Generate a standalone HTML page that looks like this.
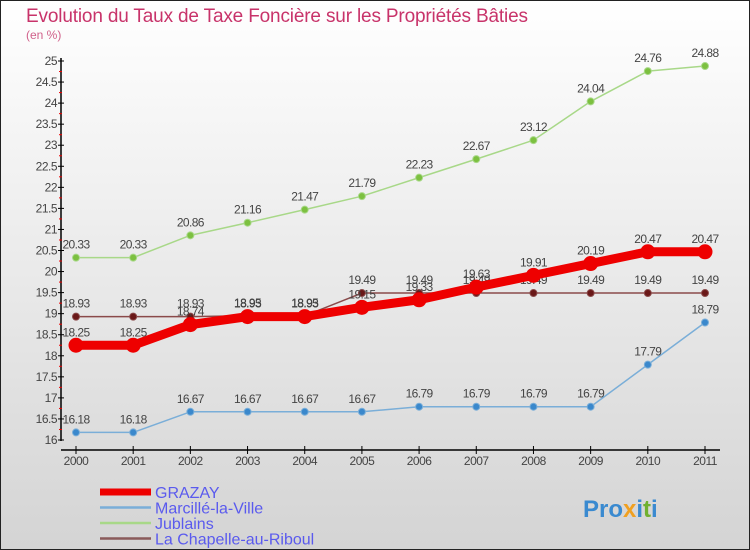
<!DOCTYPE html>
<html><head><meta charset="utf-8"><style>
body{margin:0}
svg{display:block;font-family:"Liberation Sans",sans-serif}
</style></head><body>
<svg id="c" width="750" height="550" xmlns="http://www.w3.org/2000/svg">
<defs><linearGradient id="bg" x1="0" y1="0" x2="0" y2="1"><stop offset="0" stop-color="#ffffff"/><stop offset="1" stop-color="#d4d4d4"/></linearGradient></defs>
<rect x="0.5" y="0.5" width="749" height="549" fill="url(#bg)" stroke="#222"/>
<text x="26" y="22" font-size="19" fill="#c8336a" textLength="502">Evolution du Taux de Taxe Foncière sur les Propriétés Bâties</text>
<text x="26" y="39" font-size="12" fill="#d0608a">(en %)</text>
<g id="axes"></g>
<g id="series"></g>
<g id="legend"></g>
<text x="583" y="517" font-size="24" font-weight="bold" fill="#3a8ad0">Pro<tspan fill="#f0a020">x</tspan>i<tspan fill="#70b030">t</tspan>i</text>
</svg>
<script>
const years=[2000,2001,2002,2003,2004,2005,2006,2007,2008,2009,2010,2011];
const grazay=[18.25,18.25,18.74,18.93,18.93,19.15,19.33,19.63,19.91,20.19,20.47,20.47];
const marcille=[16.18,16.18,16.67,16.67,16.67,16.67,16.79,16.79,16.79,16.79,17.79,18.79];
const jublains=[20.33,20.33,20.86,21.16,21.47,21.79,22.23,22.67,23.12,24.04,24.76,24.88];
const chapelle=[18.93,18.93,18.93,18.95,18.95,19.49,19.49,19.49,19.49,19.49,19.49,19.49];
const yTicks=[16,16.5,17,17.5,18,18.5,19,19.5,20,20.5,21,21.5,22,22.5,23,23.5,24,24.5,25];
const NS="http://www.w3.org/2000/svg";
const x=i=>76+i*(705-76)/11;
const y=v=>440-(v-16)*(440-61)/9;
function mk(t,a,p){const e=document.createElementNS(NS,t);for(const k in a)e.setAttribute(k,a[k]);p.appendChild(e);return e;}
const ax=document.getElementById('axes');
let l=mk('line',{x1:61,y1:58,x2:61,y2:441,stroke:'#000','stroke-width':1.5},ax);


l=mk('line',{x1:61,y1:450,x2:720,y2:450,stroke:'#000','stroke-width':1.5},ax);


yTicks.forEach(v=>{
  mk('line',{x1:58,y1:y(v),x2:64,y2:y(v),stroke:'#000'},ax);
  if(v<25)mk('line',{x1:59,y1:y(v+0.25),x2:62,y2:y(v+0.25),stroke:'#e00'},ax);
  const t=mk('text',{x:57,y:y(v)+4,'font-size':12,fill:'#444','text-anchor':'end','letter-spacing':'-0.5'},ax);
  t.textContent=String(v);
  
  
});
years.forEach((yr,i)=>{
  mk('line',{x1:x(i),y1:446,x2:x(i),y2:454,stroke:'#000'},ax);
  const t=mk('text',{x:x(i),y:465,'font-size':12,fill:'#444','text-anchor':'middle','letter-spacing':'-0.5'},ax);
  t.textContent=String(yr);
  
  
});
const sg=document.getElementById('series');
function series(vals,color,dot,w,r,name){
  const g=mk('g',{},sg);
  
  
  mk('polyline',{points:vals.map((v,i)=>x(i)+','+y(v)).join(' '),fill:'none',stroke:color,'stroke-width':w,'stroke-linejoin':'round'},g);
  vals.forEach((v,i)=>{
    const c=mk('circle',{cx:x(i),cy:y(v),r:r,fill:dot,stroke:color,'stroke-width':1},g);
    
    
    const t=mk('text',{x:x(i),y:y(v)-9,'font-size':12,fill:'#444','text-anchor':'middle','letter-spacing':'-0.6'},g);
    t.textContent=String(v);
    
    
  });
}
series(jublains,'#a8d888','#7cc040',1.5,3.5,'jublains-series');
series(marcille,'#7aaed8','#3a88cc',1.5,3.5,'marcille-series');
series(chapelle,'#8a4a4a','#6a1818',1.5,3.5,'chapelle-series');
series(grazay,'#ee0000','#ee0000',9,7,'grazay-series');
const lg=document.getElementById('legend');
[['GRAZAY','#ee0000',7],['Marcillé-la-Ville','#7aaed8',2.5],['Jublains','#a8d888',2.5],['La Chapelle-au-Riboul','#8a5a5a',2.5]].forEach((d,i)=>{
  const yy=492+i*15.5;
  const g=mk('g',{},lg);
  
  
  mk('line',{x1:100,y1:yy,x2:151,y2:yy,stroke:d[1],'stroke-width':d[2]},g);
  const t=mk('text',{x:155,y:yy+6,'font-size':16,fill:'#5a5aee'},g);
  t.textContent=d[0];
});
</script>
</body></html>
